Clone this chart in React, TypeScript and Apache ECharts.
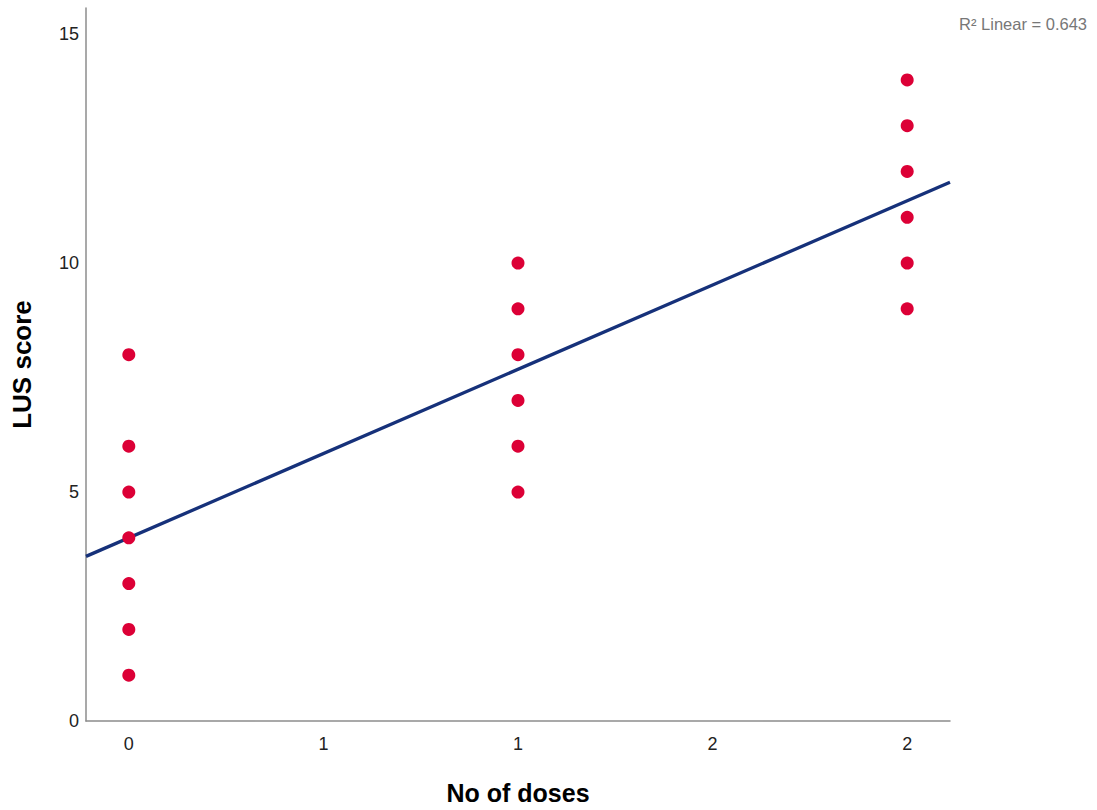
import React, { useEffect, useRef } from "react";
import * as echarts from "echarts";

const doses0: number[] = [1, 2, 3, 4, 5, 6, 8];
const doses1: number[] = [5, 6, 7, 8, 9, 10];
const doses2: number[] = [9, 10, 11, 12, 13, 14];
const xTickValues: number[] = [0, 0.5, 1, 1.5, 2];
const yTickValues: number[] = [0, 5, 10, 15];
const fitIntercept = 4.0;
const fitSlope = 3.68;
const xRange: number[] = [-0.11, 2.11];
const r2Label = "R² Linear = 0.643";

export default function App() {
  const ref = useRef<HTMLDivElement>(null);
  useEffect(() => {
    if (!ref.current) return;
    const chart = echarts.init(ref.current, undefined, { renderer: "svg" });
    const points: number[][] = [
      ...doses0.map((v) => [0, v]),
      ...doses1.map((v) => [1, v]),
      ...doses2.map((v) => [2, v]),
    ];
    const fitLine = xRange.map((x) => [x, fitIntercept + fitSlope * x]);
    chart.setOption({
      animation: false,
      backgroundColor: "#ffffff",
      grid: { left: 86, right: 147, top: 8, bottom: 89, containLabel: false },
      xAxis: {
        type: "value",
        min: xRange[0],
        max: xRange[1],
        name: "No of doses",
        nameLocation: "middle",
        nameGap: 59,
        nameTextStyle: { fontFamily: "Liberation Sans, Arial", fontSize: 25, fontWeight: "bold", color: "#000" },
        axisLine: { show: true, onZero: false, lineStyle: { color: "#8c8c8c", width: 1.5 } },
        axisTick: { show: false },
        splitLine: { show: false },
        axisLabel: {
          customValues: xTickValues,
          formatter: (v: number) => String(Math.round(v)),
          fontFamily: "Liberation Sans, Arial",
          fontSize: 18,
          color: "#222",
          margin: 14,
        },
      },
      yAxis: {
        type: "value",
        min: 0,
        max: 15.57,
        name: "LUS score",
        nameLocation: "middle",
        nameGap: 51,
        nameTextStyle: { fontFamily: "Liberation Sans, Arial", fontSize: 26, fontWeight: "bold", color: "#000" },
        axisLine: { show: true, onZero: false, lineStyle: { color: "#8c8c8c", width: 1.5 } },
        axisTick: { show: false },
        splitLine: { show: false },
        axisLabel: {
          customValues: yTickValues,
          fontFamily: "Liberation Sans, Arial",
          fontSize: 18,
          color: "#222",
          margin: 7,
        },
      },
      graphic: [
        {
          type: "text",
          right: 10,
          top: 15,
          style: { text: r2Label, fontFamily: "Liberation Sans, Arial", fontSize: 16.5, fill: "#777" },
        },
      ],
      series: [
        {
          type: "line",
          data: fitLine,
          showSymbol: false,
          symbol: "none",
          lineStyle: { color: "#16317a", width: 3.3 },
          silent: true,
          z: 2,
        },
        {
          type: "scatter",
          data: points,
          symbolSize: 13,
          itemStyle: { color: "#dc0036", opacity: 1 },
          z: 3,
        },
      ],
    });
    return () => chart.dispose();
  }, []);
  return <div ref={ref} style={{ position: "fixed", left: 0, top: 0, width: 1097, height: 810 }} />;
}
